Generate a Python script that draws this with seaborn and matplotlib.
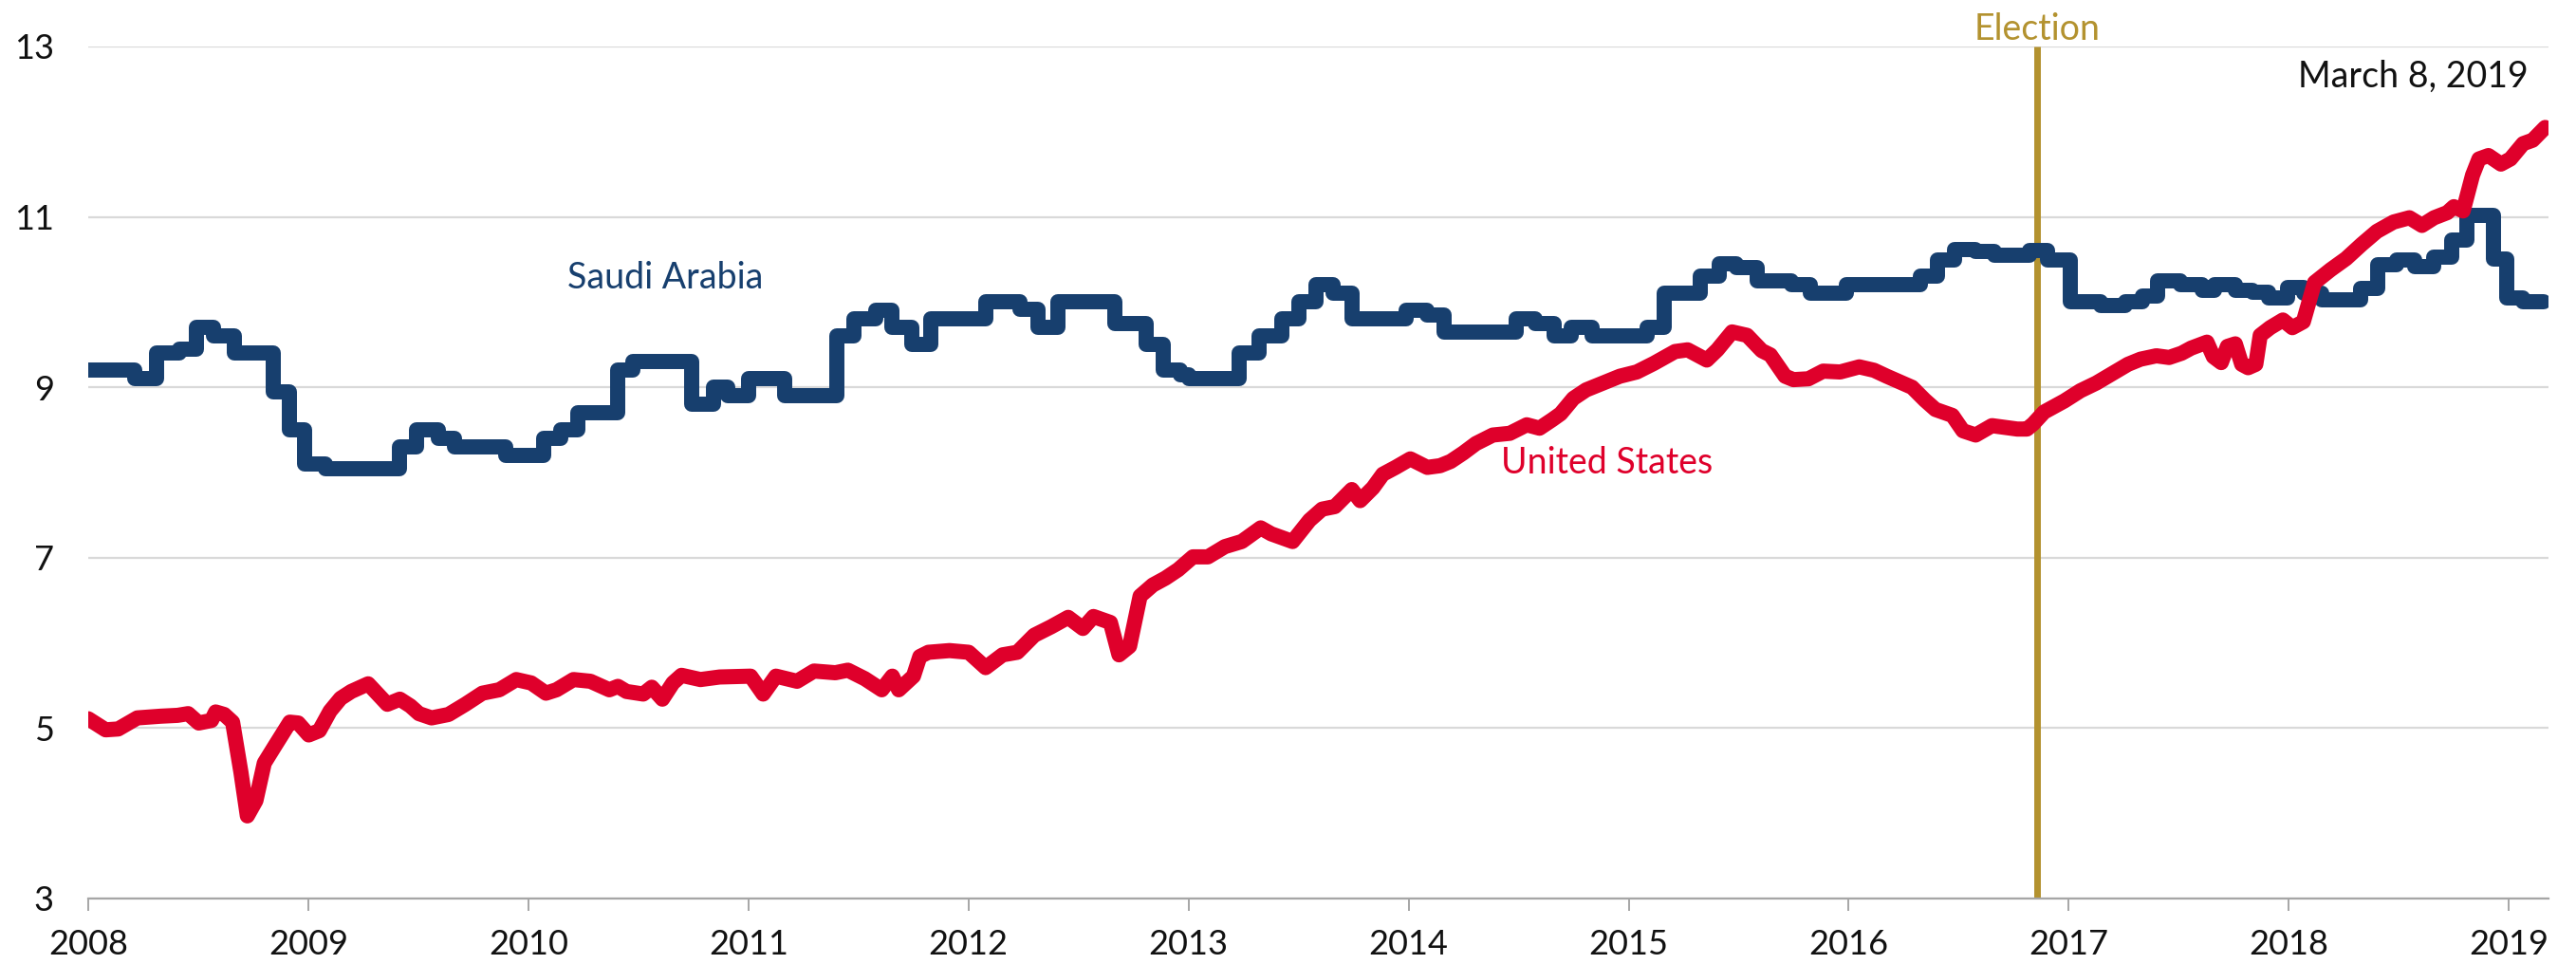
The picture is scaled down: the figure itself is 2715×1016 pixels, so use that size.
import matplotlib
matplotlib.use("Agg")
import matplotlib.pyplot as plt
import seaborn as sns
import pandas as pd

# ---- Data (decimal years, percent) ----
saudi_years = [2008.000, 2008.213, 2008.310, 2008.415, 2008.492, 2008.569, 2008.666, 2008.839,
               2008.916, 2008.983, 2009.079, 2009.416, 2009.493, 2009.589, 2009.666, 2009.897,
               2010.070, 2010.147, 2010.224, 2010.407, 2010.474, 2010.744, 2010.840, 2010.904,
               2011.000, 2011.164, 2011.404, 2011.481, 2011.577, 2011.654, 2011.741, 2011.827,
               2012.078, 2012.232, 2012.318, 2012.405, 2012.665, 2012.809, 2012.886, 2012.963,
               2013.001, 2013.232, 2013.319, 2013.424, 2013.502, 2013.578, 2013.655, 2013.742,
               2013.989, 2014.085, 2014.162, 2014.489, 2014.576, 2014.662, 2014.739, 2014.835,
               2015.086, 2015.163, 2015.326, 2015.413, 2015.490, 2015.586, 2015.740, 2015.826,
               2015.990, 2016.327, 2016.404, 2016.481, 2016.577, 2016.663, 2016.820, 2016.905,
               2017.005, 2017.147, 2017.255, 2017.335, 2017.405, 2017.506, 2017.607, 2017.664,
               2017.757, 2017.836, 2017.908, 2017.995, 2018.068, 2018.150, 2018.325, 2018.405,
               2018.490, 2018.570, 2018.660, 2018.740, 2018.810, 2018.930, 2018.990, 2019.065,
               2019.160]
saudi_values = [9.20, 9.10, 9.40, 9.45, 9.70, 9.60, 9.40, 8.95,
                8.50, 8.10, 8.05, 8.30, 8.50, 8.40, 8.30, 8.20,
                8.40, 8.50, 8.70, 9.20, 9.30, 8.80, 9.00, 8.90,
                9.10, 8.90, 9.60, 9.80, 9.90, 9.70, 9.50, 9.80,
                10.00, 9.92, 9.70, 10.00, 9.75, 9.50, 9.20, 9.15,
                9.10, 9.40, 9.60, 9.80, 10.00, 10.20, 10.10, 9.80,
                9.90, 9.85, 9.65, 9.80, 9.75, 9.60, 9.70, 9.60,
                9.70, 10.10, 10.30, 10.45, 10.40, 10.25, 10.20, 10.10,
                10.20, 10.30, 10.50, 10.62, 10.60, 10.55, 10.61, 10.50,
                10.00, 9.96, 10.00, 10.07, 10.25, 10.20, 10.14, 10.21,
                10.14, 10.12, 10.05, 10.17, 10.10, 10.03, 10.16, 10.44,
                10.50, 10.42, 10.53, 10.73, 11.02, 10.51, 10.05, 10.00,
                10.00]

us_years = [2008.000, 2008.079, 2008.136, 2008.223, 2008.329, 2008.406, 2008.454, 2008.502,
            2008.560, 2008.579, 2008.618, 2008.656, 2008.694, 2008.723, 2008.762, 2008.800,
            2008.848, 2008.916, 2008.954, 2009.002, 2009.050, 2009.099, 2009.147, 2009.195,
            2009.272, 2009.359, 2009.416, 2009.464, 2009.503, 2009.560, 2009.637, 2009.714,
            2009.791, 2009.868, 2009.945, 2010.013, 2010.080, 2010.128, 2010.205, 2010.282,
            2010.368, 2010.407, 2010.446, 2010.522, 2010.561, 2010.609, 2010.657, 2010.696,
            2010.782, 2010.869, 2011.010, 2011.067, 2011.125, 2011.221, 2011.298, 2011.395,
            2011.452, 2011.529, 2011.606, 2011.654, 2011.683, 2011.750, 2011.779, 2011.818,
            2011.914, 2012.001, 2012.078, 2012.155, 2012.222, 2012.299, 2012.376, 2012.453,
            2012.520, 2012.568, 2012.645, 2012.684, 2012.732, 2012.780, 2012.838, 2012.895,
            2012.953, 2013.020, 2013.088, 2013.165, 2013.242, 2013.328, 2013.376, 2013.473,
            2013.550, 2013.607, 2013.665, 2013.742, 2013.780, 2013.838, 2013.883, 2013.941,
            2014.008, 2014.085, 2014.143, 2014.191, 2014.249, 2014.306, 2014.383, 2014.460,
            2014.537, 2014.595, 2014.653, 2014.691, 2014.749, 2014.807, 2014.884, 2014.960,
            2015.037, 2015.114, 2015.211, 2015.268, 2015.355, 2015.403, 2015.470, 2015.538,
            2015.605, 2015.644, 2015.711, 2015.749, 2015.817, 2015.884, 2015.961, 2016.048,
            2016.115, 2016.173, 2016.288, 2016.346, 2016.394, 2016.471, 2016.519, 2016.577,
            2016.651, 2016.710, 2016.766, 2016.810, 2016.838, 2016.888, 2016.980, 2017.053,
            2017.125, 2017.197, 2017.269, 2017.326, 2017.398, 2017.456, 2017.513, 2017.556,
            2017.628, 2017.657, 2017.693, 2017.721, 2017.757, 2017.786, 2017.815, 2017.850,
            2017.870, 2017.915, 2017.973, 2018.016, 2018.066, 2018.117, 2018.190, 2018.260,
            2018.332, 2018.400, 2018.476, 2018.548, 2018.605, 2018.660, 2018.720, 2018.750,
            2018.792, 2018.835, 2018.864, 2018.907, 2018.964, 2019.007, 2019.065, 2019.108,
            2019.165]
us_values = [5.11, 4.98, 4.99, 5.12, 5.14, 5.15, 5.17, 5.06,
             5.09, 5.19, 5.16, 5.07, 4.48, 3.97, 4.15, 4.59,
             4.79, 5.07, 5.06, 4.92, 4.97, 5.20, 5.35, 5.43,
             5.52, 5.28, 5.34, 5.26, 5.17, 5.12, 5.16, 5.28,
             5.41, 5.45, 5.57, 5.53, 5.41, 5.45, 5.57, 5.55,
             5.45, 5.49, 5.43, 5.40, 5.48, 5.34, 5.53, 5.62,
             5.57, 5.60, 5.61, 5.40, 5.61, 5.55, 5.67, 5.65,
             5.68, 5.58, 5.45, 5.61, 5.45, 5.61, 5.84, 5.89,
             5.91, 5.89, 5.71, 5.86, 5.89, 6.09, 6.19, 6.30,
             6.17, 6.31, 6.24, 5.86, 5.96, 6.55, 6.68, 6.76,
             6.86, 7.01, 7.01, 7.13, 7.19, 7.35, 7.28, 7.19,
             7.44, 7.57, 7.60, 7.80, 7.67, 7.82, 7.98, 8.06,
             8.16, 8.06, 8.08, 8.13, 8.23, 8.34, 8.44, 8.46,
             8.56, 8.52, 8.62, 8.69, 8.87, 8.97, 9.05, 9.13,
             9.18, 9.28, 9.42, 9.44, 9.32, 9.44, 9.65, 9.61,
             9.43, 9.38, 9.13, 9.09, 9.10, 9.19, 9.18, 9.24,
             9.20, 9.13, 9.00, 8.85, 8.74, 8.67, 8.49, 8.44,
             8.55, 8.53, 8.51, 8.51, 8.57, 8.71, 8.84, 8.96,
             9.05, 9.16, 9.27, 9.33, 9.37, 9.35, 9.40, 9.46,
             9.53, 9.36, 9.29, 9.48, 9.51, 9.27, 9.23, 9.27,
             9.61, 9.70, 9.79, 9.70, 9.77, 10.23, 10.38, 10.51,
             10.68, 10.83, 10.94, 10.99, 10.90, 10.99, 11.05, 11.12,
             11.07, 11.49, 11.68, 11.72, 11.62, 11.68, 11.86, 11.90,
             12.05]

year_ticks = [2008, 2009, 2010, 2011, 2012, 2013, 2014, 2015, 2016, 2017, 2018, 2019]
y_ticks = [3, 5, 7, 9, 11, 13]
election_year = 2016.855

NAVY = "#173F6E"
RED = "#DF002B"
GOLD = "#B3922F"

sns.set_theme(style="white")
plt.rcParams["font.family"] = ["Lato", "DejaVu Sans"]

fig = plt.figure(figsize=(27.15, 10.16), dpi=100)
ax = fig.add_axes([93 / 2715, 1 - 947 / 1016, (2686 - 93) / 2715, (947 - 49) / 1016])

saudi_df = pd.DataFrame({"year": saudi_years, "value": saudi_values})
us_df = pd.DataFrame({"year": us_years, "value": us_values})

ax.axvline(election_year, color=GOLD, lw=5, zorder=1, solid_capstyle="butt")

sns.lineplot(data=saudi_df, x="year", y="value", ax=ax, color=NAVY, lw=11.5,
             drawstyle="steps-post", estimator=None, sort=False,
             solid_joinstyle="round", solid_capstyle="round", zorder=3)
sns.lineplot(data=us_df, x="year", y="value", ax=ax, color=RED, lw=11.5,
             estimator=None, sort=False,
             solid_joinstyle="round", solid_capstyle="round", zorder=4)

ax.set_xlim(2008, 2019.18)
ax.set_ylim(3, 13)
ax.set_xticks(year_ticks)
ax.set_xticklabels([str(y) for y in year_ticks])
ax.set_yticks(y_ticks)
ax.set_yticklabels([str(v) for v in y_ticks])
ax.set_xlabel("")
ax.set_ylabel("")

ax.grid(axis="y", color="#D9D9D9", lw=1.6, zorder=0)
ax.grid(axis="x", visible=False)
for s in ["top", "right", "left"]:
    ax.spines[s].set_visible(False)
ax.spines["bottom"].set_color("#A6A6A6")
ax.spines["bottom"].set_linewidth(1.6)
ax.spines["bottom"].set_zorder(5)

ax.tick_params(axis="x", length=9, width=1.4, color="#A6A6A6", pad=14,
               labelsize=26, labelcolor="#111111", bottom=True)
ax.tick_params(axis="y", length=0, pad=26, labelsize=26, labelcolor="#111111")

ax.text(2010.177, 10.16, "Saudi Arabia", color=NAVY, fontsize=27, va="baseline", ha="left")
ax.text(2014.418, 7.99, "United States", color=RED, fontsize=27, va="baseline", ha="left")
ax.text(2019.09, 12.52, "March 8, 2019", color="#111111", fontsize=27, va="baseline", ha="right")
ax.text(election_year, 13.08, "Election", color=GOLD, fontsize=27, va="baseline", ha="center",
        clip_on=False)

fig.savefig("out.png", dpi=100, facecolor="white")
